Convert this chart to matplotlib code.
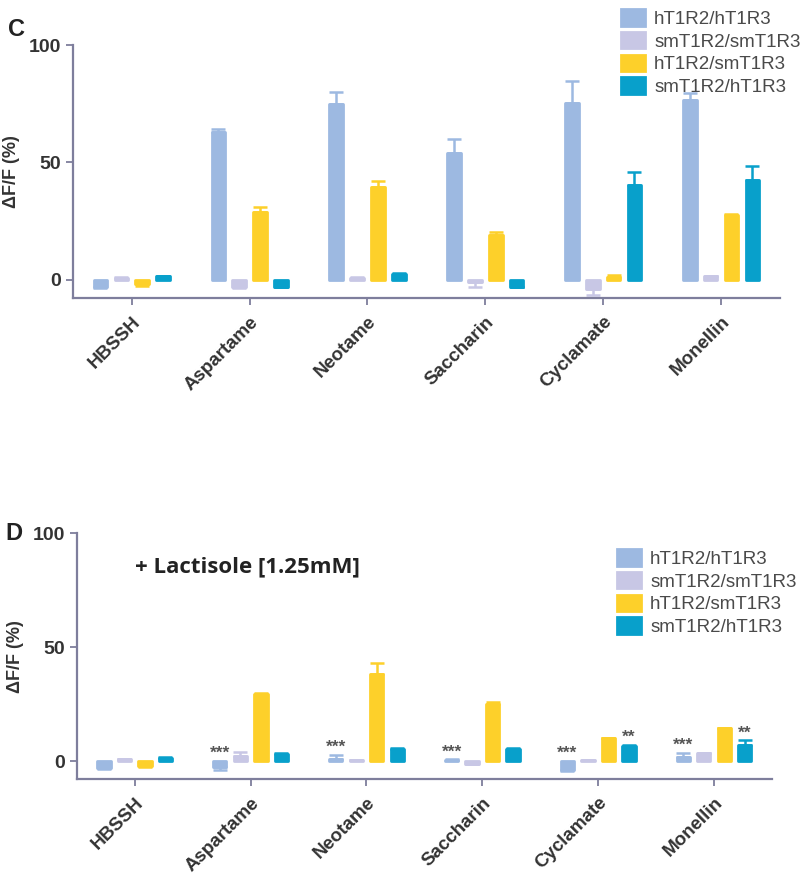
import numpy as np
import matplotlib
matplotlib.use('Agg')
import matplotlib.pyplot as plt

# categories and series
categories = ['HBSSH', 'Aspartame', 'Neotame', 'Saccharin', 'Cyclamate', 'Monellin']
series = ['hT1R2/hT1R3', 'smT1R2/smT1R3', 'hT1R2/smT1R3', 'smT1R2/hT1R3']
colors = ['#9DB9E1', '#C8C7E5', '#FDD02A', '#08A0CB']

# panel C: no lactisole (mean, sem)
c_hh = [-3, 63, 75, 54, 75.5, 76.5]
c_smsm = [0.8, -3, 0.8, -1, -4, 1.5]
c_hsm = [-2, 29, 39.5, 19, 1, 27.5]
c_smh = [1.5, -3, 2.5, -3, 40.5, 42.5]
c_hh_err = [0.5, 1.2, 5, 6, 9, 3]
c_smsm_err = [0.3, 0.5, 0.3, 2, 2.5, 0.3]
c_hsm_err = [0.5, 2, 2.5, 1.5, 1.2, 0.3]
c_smh_err = [0.3, 0.3, 0.3, 0.3, 5.3, 6]

# panel D: + lactisole
d_hh = [-3, -2.5, 0.8, 0.5, -4, 2]
d_smsm = [0.8, 2.5, 0.4, -1, 0.4, 3.5]
d_hsm = [-2, 29.5, 38.5, 25, 10, 14.5]
d_smh = [1.2, 3, 5.5, 5.5, 6.5, 7.2]
d_hh_err = [0.5, 1.5, 2, 0.3, 0.5, 1.5]
d_smsm_err = [0.3, 1.5, 0.3, 0.3, 0.3, 0.3]
d_hsm_err = [0.5, 0.3, 4.5, 1.2, 0.3, 0.3]
d_smh_err = [0.5, 0.5, 0.3, 0.3, 0.8, 2]

d_stars_hh = ['', '***', '***', '***', '***', '***']
d_stars_smh = ['', '', '', '', '**', '**']

axis_col = '#7E7E9C'
txt_col = '#333333'
plt.rcParams['font.family'] = ['Liberation Sans', 'DejaVu Sans']

fig = plt.figure(figsize=(8, 8.74), dpi=100)


def draw_panel(ax, means, errs, stars=None):
    x = np.arange(len(categories))
    step = 0.177
    width = 0.115
    tops = []
    for i, (m, e) in enumerate(zip(means, errs)):
        m = np.array(m, dtype=float)
        e = np.array(e, dtype=float)
        xi = x + (i - 1.5) * step
        ax.bar(xi, m, width=width, color=colors[i], edgecolor=colors[i],
               linewidth=2, joinstyle='round', label=series[i], zorder=2)
        lo = np.where(m < 0, e, 0)
        hi = np.where(m >= 0, e, 0)
        ax.errorbar(xi, m, yerr=[lo, hi], fmt='none', ecolor=colors[i],
                    elinewidth=1.8, capsize=5, capthick=1.8, zorder=1)
        tops.append(np.maximum(m + hi, 0))
    if stars:
        for i, labs in stars.items():
            xi = x + (i - 1.5) * step
            for k, s in enumerate(labs):
                if s:
                    ax.annotate(s, (xi[k], tops[i][k]), xytext=(0, 0),
                                textcoords='offset points', ha='center',
                                va='bottom', fontsize=12.5, fontweight='bold',
                                color='#555555')
    ax.set_ylim(-7.8, 100)
    ax.set_xlim(-0.5, 5.5)
    ax.set_yticks([0, 50, 100])
    ax.set_xticks(x)
    ax.set_xticklabels(categories, rotation=45, ha='right',
                       rotation_mode='anchor', fontsize=13.5,
                       fontweight='bold', color=txt_col)
    for lab in ax.get_yticklabels():
        lab.set_fontweight('bold')
        lab.set_fontsize(14)
        lab.set_color(txt_col)
    ax.set_ylabel('ΔF/F (%)', fontsize=13, fontweight='bold', color=txt_col,
                  labelpad=6)
    for s in ['top', 'right']:
        ax.spines[s].set_visible(False)
    for s in ['left', 'bottom']:
        ax.spines[s].set_color(axis_col)
        ax.spines[s].set_linewidth(1.6)
    ax.tick_params(axis='both', color=axis_col, width=1.3, length=5)
    ax.tick_params(axis='x', pad=6)


ax1 = fig.add_axes([0.091, 0.659, 0.884, 0.2895])
draw_panel(ax1, [c_hh, c_smsm, c_hsm, c_smh],
           [c_hh_err, c_smsm_err, c_hsm_err, c_smh_err])

ax2 = fig.add_axes([0.096, 0.1087, 0.869, 0.281])
draw_panel(ax2, [d_hh, d_smsm, d_hsm, d_smh],
           [d_hh_err, d_smsm_err, d_hsm_err, d_smh_err],
           stars={0: d_stars_hh, 3: d_stars_smh})

leg_kw = dict(loc='upper left', frameon=False, fontsize=13.5, borderpad=0,
              handlelength=1.25, handleheight=0.95, labelspacing=0.22,
              handletextpad=0.5, labelcolor='#4a4a4a')
h, l = ax1.get_legend_handles_labels()
fig.legend(h, l, bbox_to_anchor=(612 / 800, 1 - 0 / 874), **leg_kw)
h, l = ax2.get_legend_handles_labels()
fig.legend(h, l, bbox_to_anchor=(608 / 800, 1 - 540 / 874), **leg_kw)

fig.text(8 / 800, 1 - 30 / 874, 'C', fontsize=17, fontweight='bold',
         color='#222222', va='center')
fig.text(5 / 800, 1 - 534 / 874, 'D', fontsize=17, fontweight='bold',
         color='#222222', va='center')
fig.text(247 / 800, 1 - 567 / 874, '+ Lactisole [1.25mM]', fontsize=16,
         fontweight='bold', color='#222222', ha='center', va='center',
         family=['Open Sans', 'DejaVu Sans'])

fig.savefig('out.png', dpi=100)
